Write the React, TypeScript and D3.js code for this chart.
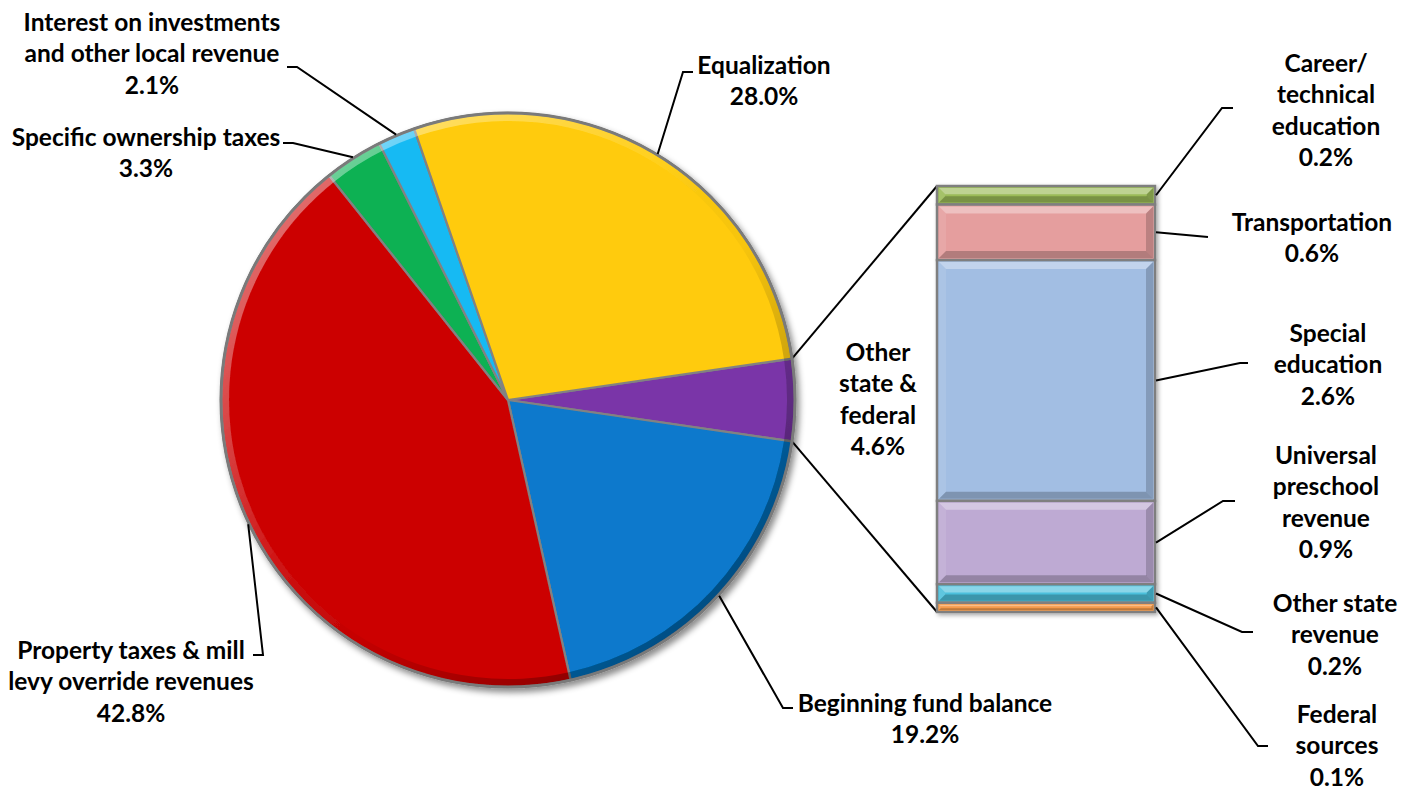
import React from 'react';
import * as d3 from 'd3';

// ---------- DATA ----------
const pieCategories = [
  'Other state & federal',
  'Beginning fund balance',
  'Property taxes & mill levy override revenues',
  'Specific ownership taxes',
  'Interest on investments and other local revenue',
  'Equalization',
];
const pieValues = [4.6, 19.2, 42.8, 3.3, 2.1, 28.0];
const pieLabelLines = [
  ['Other', 'state &', 'federal'],
  ['Beginning fund balance'],
  ['Property taxes & mill', 'levy override revenues'],
  ['Specific ownership taxes'],
  ['Interest on investments', 'and other local revenue'],
  ['Equalization'],
];
const pieColors = ['#7A36A8', '#0779CC', '#CC0505', '#08B152', '#19BAF3', '#FFCB08'];

const barCategories = [
  'Career/technical education',
  'Transportation',
  'Special education',
  'Universal preschool revenue',
  'Other state revenue',
  'Federal sources',
];
const barValues = [0.2, 0.6, 2.6, 0.9, 0.2, 0.1];
const barLabelLines = [
  ['Career/', 'technical', 'education'],
  ['Transportation'],
  ['Special', 'education'],
  ['Universal', 'preschool', 'revenue'],
  ['Other state', 'revenue'],
  ['Federal', 'sources'],
];
const barColors = ['#9BBB59', '#E59E9E', '#A2BEE3', '#BEAAD3', '#4CC0DC', '#F59B4B'];

// ---------- LAYOUT ----------
const W = 1415;
const H = 789;
const CX = 508;
const CY = 400;
const R = 287;
const BAR_X0 = 937;
const BAR_X1 = 1155;
const BAR_Y0 = 186;
const BAR_Y1 = 612;
const FONT = 24.5;
const LINE_H = 31.5;
const BASE_OFF = 8.5;

type LabelPos = { x: number; y: number; elbow?: [number, number]; end?: [number, number] };

const pieLabelPos: LabelPos[] = [
  { x: 878, y: 352 },
  { x: 925, y: 703, elbow: [783, 708], end: [793, 708] },
  { x: 131, y: 650, elbow: [263, 655], end: [253, 655] },
  { x: 146, y: 137, elbow: [293, 143], end: [283, 143] },
  { x: 152, y: 22, elbow: [297, 67], end: [287, 67] },
  { x: 764, y: 65, elbow: [683, 72], end: [693, 72] },
];
const barLabelPos: LabelPos[] = [
  { x: 1326, y: 63, elbow: [1222, 108], end: [1233, 108] },
  { x: 1312, y: 222, elbow: [1208, 237], end: [1208, 237] },
  { x: 1328, y: 333, elbow: [1240, 363], end: [1248, 363] },
  { x: 1326, y: 455, elbow: [1223, 501], end: [1235, 501] },
  { x: 1335, y: 603, elbow: [1242, 632], end: [1253, 632] },
  { x: 1337, y: 714, elbow: [1258, 746], end: [1268, 746] },
];

const fmt = (v: number) => d3.format('.1f')(v) + '%';

function Label({ pos, lines, value }: { pos: LabelPos; lines: string[]; value: number }) {
  const all = [...lines, fmt(value)];
  return (
    <text
      textAnchor="middle"
      fontFamily="Lato, 'Open Sans', sans-serif"
      fontWeight={700}
      fontSize={FONT}
      fill="#000"
    >
      {all.map((l, i) => (
        <tspan key={i} x={pos.x} y={pos.y + i * LINE_H + BASE_OFF}>
          {l}
        </tspan>
      ))}
    </text>
  );
}

function Leader({ start, pos }: { start: [number, number]; pos: LabelPos }) {
  if (!pos.elbow || !pos.end) return null;
  const pts = [start, pos.elbow, pos.end];
  return (
    <path
      d={d3.line()(pts as [number, number][]) || ''}
      fill="none"
      stroke="#000"
      strokeWidth={2}
    />
  );
}

function bevelPolys(x0: number, y0: number, x1: number, y1: number) {
  const h = y1 - y0;
  const b = Math.max(1.5, Math.min(7, h / 2 - 1));
  return {
    top: [[x0, y0], [x1, y0], [x1 - b, y0 + b], [x0 + b, y0 + b]],
    bottom: [[x0, y1], [x1, y1], [x1 - b, y1 - b], [x0 + b, y1 - b]],
    left: [[x0, y0], [x0 + b, y0 + b], [x0 + b, y1 - b], [x0, y1]],
    right: [[x1, y0], [x1 - b, y0 + b], [x1 - b, y1 - b], [x1, y1]],
  };
}
const poly = (p: number[][]) => 'M' + p.map((q) => q.join(',')).join('L') + 'Z';

export default function App() {
  const total = d3.sum(pieValues);
  const start = Math.PI / 2 - (pieValues[0] / total) * Math.PI;
  const arcs = d3
    .pie<number>()
    .sort(null)
    .startAngle(start)
    .endAngle(start + 2 * Math.PI)(pieValues);
  const arcGen = d3.arc<d3.PieArcDatum<number>>().innerRadius(0).outerRadius(R);
  const ringGen = d3.arc<d3.PieArcDatum<number>>().innerRadius(R - 8).outerRadius(R);
  const edgePt = (a: number, r = R): [number, number] => [CX + r * Math.sin(a), CY - r * Math.cos(a)];

  const barTotal = d3.sum(barValues);
  const y = d3.scaleLinear().domain([0, barTotal]).range([BAR_Y0, BAR_Y1]);
  const cum = barValues.map((_, i) => d3.sum(barValues.slice(0, i)));

  const split = arcs[0];
  const splitTop = edgePt(split.startAngle);
  const splitBot = edgePt(split.endAngle);

  return (
    <svg
      width={W}
      height={H}
      style={{ position: 'absolute', left: 0, top: 0, background: '#fff' }}
    >
      <defs>
        <filter id="pieShadow" x="-10%" y="-10%" width="125%" height="125%">
          <feDropShadow dx="3" dy="4" stdDeviation="3" floodColor="#000" floodOpacity="0.45" />
        </filter>
        <filter id="barShadow" x="-10%" y="-10%" width="130%" height="130%">
          <feDropShadow dx="2" dy="2" stdDeviation="2" floodColor="#000" floodOpacity="0.35" />
        </filter>
        <linearGradient id="ringGrad" gradientUnits="userSpaceOnUse" x1={-R * 0.7} y1={-R * 0.7} x2={R * 0.7} y2={R * 0.7}>
          <stop offset="0" stopColor="#fff" stopOpacity="0.4" />
          <stop offset="0.4" stopColor="#fff" stopOpacity="0.08" />
          <stop offset="0.6" stopColor="#000" stopOpacity="0.03" />
          <stop offset="1" stopColor="#000" stopOpacity="0.35" />
        </linearGradient>
      </defs>

      {/* connector lines pie -> bar */}
      <line x1={splitTop[0]} y1={splitTop[1]} x2={BAR_X0} y2={BAR_Y0} stroke="#000" strokeWidth={2} />
      <line x1={splitBot[0]} y1={splitBot[1]} x2={BAR_X0} y2={BAR_Y1} stroke="#000" strokeWidth={2} />

      {/* pie */}
      <g filter="url(#pieShadow)">
        <circle cx={CX} cy={CY} r={R + 1} fill="#808080" />
        <g transform={`translate(${CX},${CY})`}>
          {arcs.map((a, i) => (
            <path key={pieCategories[i]} d={arcGen(a) || ''} fill={pieColors[i]} stroke="#828282" strokeWidth={2.2} strokeLinejoin="round" />
          ))}
          {arcs.map((a, i) => (
            <path key={'r' + i} d={ringGen(a) || ''} fill="url(#ringGrad)" />
          ))}
        </g>
        <circle cx={CX} cy={CY} r={R} fill="none" stroke="#7a7a7a" strokeWidth={3} />
      </g>

      {/* bar */}
      <g filter="url(#barShadow)">
        {barValues.map((v, i) => {
          const y0 = y(cum[i]);
          const y1 = y(cum[i] + v);
          const bv = bevelPolys(BAR_X0 + 2, y0 + 2, BAR_X1 - 2, y1 - 2);
          return (
            <g key={barCategories[i]}>
              <rect x={BAR_X0} y={y0} width={BAR_X1 - BAR_X0} height={y1 - y0} fill={barColors[i]} stroke="#7f7f7f" strokeWidth={2.5} />
              <path d={poly(bv.top)} fill="#fff" fillOpacity={0.35} />
              <path d={poly(bv.left)} fill="#fff" fillOpacity={0.1} />
              <path d={poly(bv.right)} fill="#000" fillOpacity={0.18} />
              <path d={poly(bv.bottom)} fill="#000" fillOpacity={0.22} />
            </g>
          );
        })}
      </g>

      {/* pie leaders & labels */}
      {arcs.map((a, i) => (
        <Leader key={'pl' + i} start={edgePt((a.startAngle + a.endAngle) / 2, R + 1)} pos={pieLabelPos[i]} />
      ))}
      {arcs.map((a, i) => (
        <Label key={'pt' + i} pos={pieLabelPos[i]} lines={pieLabelLines[i]} value={pieValues[i]} />
      ))}

      {/* bar leaders & labels */}
      {barValues.map((v, i) => (
        <Leader key={'bl' + i} start={[BAR_X1 + 1, y(cum[i] + v / 2)]} pos={barLabelPos[i]} />
      ))}
      {barValues.map((v, i) => (
        <Label key={'bt' + i} pos={barLabelPos[i]} lines={barLabelLines[i]} value={v} />
      ))}
    </svg>
  );
}
